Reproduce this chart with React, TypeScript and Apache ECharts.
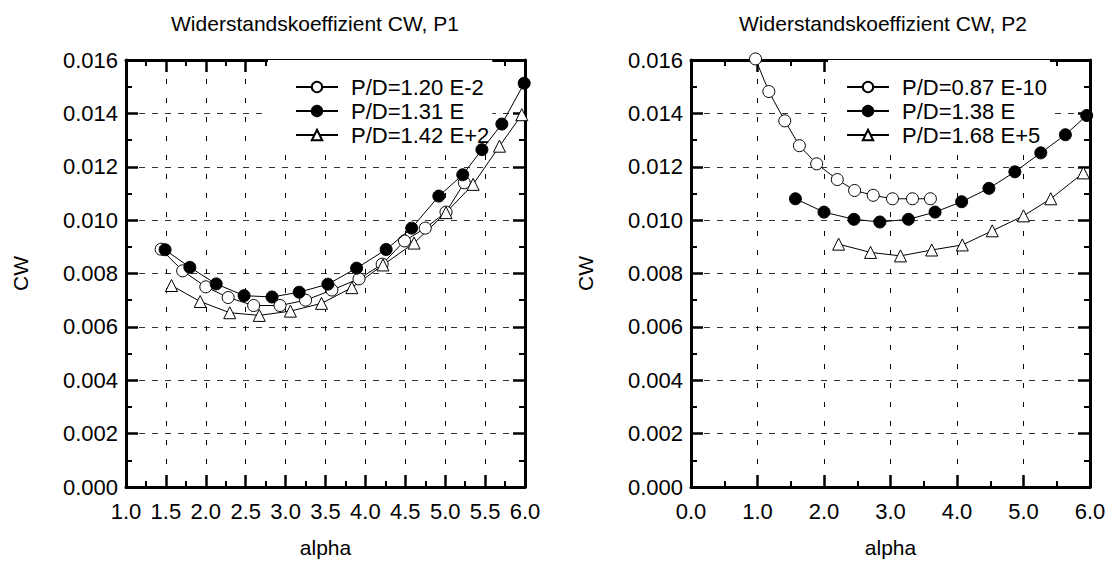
import React, { useEffect, useRef } from "react";
import * as echarts from "echarts";

// ---------- data ----------
const TITLE_P1 = "Widerstandskoeffizient CW, P1";
const TITLE_P2 = "Widerstandskoeffizient CW, P2";
const X_NAME = "alpha";
const Y_NAME = "CW";

// P1
const P1_A_NAME = "P/D=1.20 E-2";
const P1_A_ALPHA = [1.44, 1.71, 2.0, 2.28, 2.6, 2.93, 3.25, 3.58, 3.92, 4.21, 4.49, 4.75, 5.01, 5.24];
const P1_A_CW = [0.00891, 0.0081, 0.0075, 0.0071, 0.0068, 0.0068, 0.0070, 0.00738, 0.0078, 0.00835, 0.00922, 0.0097, 0.0103, 0.0114];

const P1_B_NAME = "P/D=1.31 E";
const P1_B_ALPHA = [1.49, 1.8, 2.13, 2.48, 2.83, 3.17, 3.53, 3.89, 4.26, 4.58, 4.92, 5.22, 5.46, 5.71, 5.99];
const P1_B_CW = [0.00889, 0.00823, 0.00761, 0.00717, 0.00712, 0.0073, 0.0076, 0.0082, 0.0089, 0.0097, 0.0109, 0.0117, 0.01264, 0.0136, 0.01513];

const P1_C_NAME = "P/D=1.42 E+2";
const P1_C_ALPHA = [1.57, 1.93, 2.3, 2.67, 3.06, 3.45, 3.83, 4.22, 4.61, 5.01, 5.35, 5.68, 5.96];
const P1_C_CW = [0.00755, 0.00695, 0.00653, 0.00643, 0.00659, 0.00688, 0.00747, 0.00832, 0.00914, 0.01028, 0.01134, 0.01277, 0.01395];

// P2
const P2_A_NAME = "P/D=0.87 E-10";
const P2_A_ALPHA = [0.97, 1.17, 1.41, 1.63, 1.89, 2.2, 2.46, 2.74, 3.03, 3.33, 3.6];
const P2_A_CW = [0.01604, 0.01482, 0.01372, 0.01279, 0.01211, 0.01152, 0.01111, 0.01093, 0.0108, 0.0108, 0.0108];

const P2_B_NAME = "P/D=1.38 E";
const P2_B_ALPHA = [1.57, 2.0, 2.45, 2.84, 3.27, 3.67, 4.07, 4.48, 4.87, 5.26, 5.63, 5.95];
const P2_B_CW = [0.0108, 0.0103, 0.01003, 0.00993, 0.01003, 0.0103, 0.01069, 0.01119, 0.01181, 0.01252, 0.0132, 0.01392];

const P2_C_NAME = "P/D=1.68 E+5";
const P2_C_ALPHA = [2.22, 2.7, 3.15, 3.62, 4.08, 4.53, 5.0, 5.41, 5.9];
const P2_C_CW = [0.0091, 0.00879, 0.00866, 0.00888, 0.00907, 0.0096, 0.01016, 0.0108, 0.01177];

// axis ranges
const P1_X = { min: 1.0, max: 6.0, interval: 0.5 };
const P2_X = { min: 0.0, max: 6.0, interval: 1.0 };
const Y_RANGE = { min: 0, max: 0.016, interval: 0.002 };

// ---------- helpers ----------
const F = "'Liberation Sans', Arial, Helvetica, sans-serif";
const zip = (a: number[], b: number[]) => a.map((v, i) => [v, b[i]]);

type Kind = "open" | "filled" | "tri";
function makeSeries(name: string, xs: number[], ys: number[], kind: Kind, axisBase: number) {
  return {
    type: "line",
    name,
    xAxisIndex: axisBase,
    yAxisIndex: axisBase,
    data: zip(xs, ys),
    clip: false,
    symbol: kind === "tri" ? "triangle" : "circle",
    symbolSize: 12,
    lineStyle: { color: "#000", width: 1 },
    itemStyle: {
      color: kind === "filled" ? "#000" : "#fff",
      borderColor: "#000",
      borderWidth: 1,
    },
    emphasis: { disabled: true },
    z: kind === "filled" ? 7 : 6,
  };
}

function xAxes(gridIndex: number, r: { min: number; max: number; interval: number }) {
  const common = {
    type: "value",
    gridIndex,
    min: r.min,
    max: r.max,
    interval: r.interval,
    axisLine: { show: true, onZero: false, lineStyle: { color: "#000", width: 3 } },
    axisTick: { show: true, inside: true, length: 12, lineStyle: { color: "#000", width: 2.5 } },
    minorTick: { show: true, splitNumber: 2, length: 6, lineStyle: { color: "#000", width: 2 } },
  };
  return [
    {
      ...common,
      position: "bottom",
      axisLabel: {
        show: true,
        margin: 13,
        fontSize: 22,
        color: "#000",
        fontFamily: F,
        formatter: (v: number) => v.toFixed(1),
      },
      splitLine: { show: true, lineStyle: { color: "#000", width: 1, type: [5, 14] } },
      name: X_NAME,
      nameLocation: "middle",
      nameGap: 50,
      nameTextStyle: { fontSize: 21, color: "#000", fontFamily: F },
    },
    {
      ...common,
      position: "top",
      axisLabel: { show: false },
      splitLine: { show: false },
    },
  ];
}

function yAxes(gridIndex: number) {
  const common = {
    type: "value",
    gridIndex,
    min: Y_RANGE.min,
    max: Y_RANGE.max,
    interval: Y_RANGE.interval,
    axisLine: { show: true, onZero: false, lineStyle: { color: "#000", width: 3 } },
    axisTick: { show: true, inside: true, length: 12, lineStyle: { color: "#000", width: 2.5 } },
    minorTick: { show: true, splitNumber: 2, length: 6, lineStyle: { color: "#000", width: 2 } },
  };
  return [
    {
      ...common,
      position: "left",
      axisLabel: {
        show: true,
        margin: 8,
        fontSize: 22,
        color: "#000",
        fontFamily: F,
        formatter: (v: number) => v.toFixed(3),
      },
      splitLine: { show: true, lineStyle: { color: "#333", width: 1, type: [6, 7] } },
      name: Y_NAME,
      nameLocation: "middle",
      nameGap: 95,
      nameRotate: 90,
      nameTextStyle: { fontSize: 21, color: "#000", fontFamily: F },
    },
    {
      ...common,
      position: "right",
      axisLabel: { show: false },
      splitLine: { show: false },
    },
  ];
}

function legend(names: string[], left: number, padLeft: number) {
  return {
    data: names,
    orient: "vertical",
    left,
    top: 60,
    z: 4,
    backgroundColor: "#fff",
    borderWidth: 0,
    padding: [16, 3, 3, padLeft],
    itemWidth: 42,
    itemHeight: 13,
    itemGap: 2,
    selectedMode: false,
    textStyle: { fontSize: 22, lineHeight: 22, color: "#000", fontFamily: F, padding: [0, 0, 0, 8] },
  };
}

export default function App() {
  const ref = useRef<HTMLDivElement>(null);
  useEffect(() => {
    if (!ref.current) return;
    const chart = echarts.init(ref.current, undefined, { renderer: "svg" });
    const [x0, x1] = xAxes(0, P1_X);
    const [x2, x3] = xAxes(1, P2_X);
    const [y0, y1] = yAxes(0);
    const [y2, y3] = yAxes(1);
    const option: any = {
      animation: false,
      backgroundColor: "#fff",
      grid: [
        { left: 126, top: 60, width: 399, height: 429, containLabel: false },
        { left: 691, top: 60, width: 399, height: 429, containLabel: false },
      ],
      xAxis: [x0, x1, x2, x3],
      yAxis: [y0, y1, y2, y3],
      legend: [
        legend([P1_A_NAME, P1_B_NAME, P1_C_NAME], 268, 27),
        legend([P2_A_NAME, P2_B_NAME, P2_C_NAME], 828, 18),
      ],
      graphic: [
        {
          type: "text",
          x: 315,
          y: 23,
          style: { text: TITLE_P1, fontSize: 21, fontFamily: F, fill: "#000", align: "center", verticalAlign: "middle" },
        },
        {
          type: "text",
          x: 883,
          y: 23,
          style: { text: TITLE_P2, fontSize: 21, fontFamily: F, fill: "#000", align: "center", verticalAlign: "middle" },
        },
      ],
      series: [
        makeSeries(P1_A_NAME, P1_A_ALPHA, P1_A_CW, "open", 0),
        makeSeries(P1_B_NAME, P1_B_ALPHA, P1_B_CW, "filled", 0),
        makeSeries(P1_C_NAME, P1_C_ALPHA, P1_C_CW, "tri", 0),
        makeSeries(P2_A_NAME, P2_A_ALPHA, P2_A_CW, "open", 2),
        makeSeries(P2_B_NAME, P2_B_ALPHA, P2_B_CW, "filled", 2),
        makeSeries(P2_C_NAME, P2_C_ALPHA, P2_C_CW, "tri", 2),
      ],
    };
    chart.setOption(option);
    return () => chart.dispose();
  }, []);
  return (
    <div
      ref={ref}
      style={{ position: "absolute", left: 0, top: 0, width: 1114, height: 563, background: "#fff" }}
    />
  );
}
